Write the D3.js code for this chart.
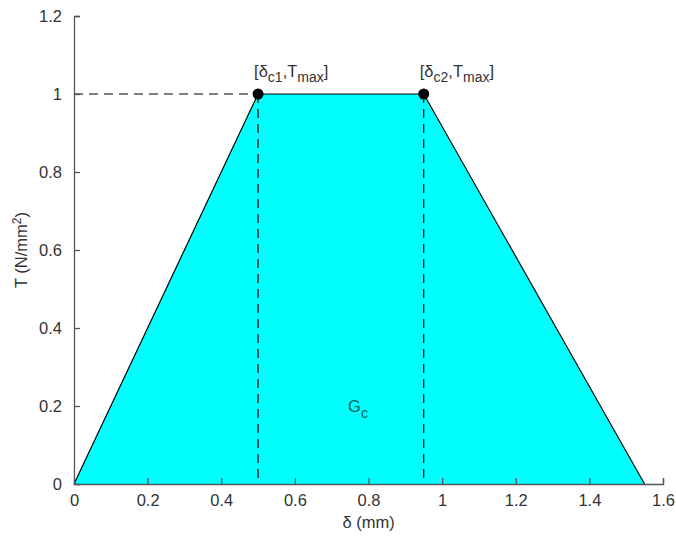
<!DOCTYPE html>
<html>
<head>
<meta charset="utf-8">
<script src="https://cdn.jsdelivr.net/npm/d3@7"></script>
<style>
  body { margin: 0; background: #fff; }
  text { font-family: Arial, "Liberation Sans", sans-serif; }
</style>
</head>
<body>
<svg id="chart" width="676" height="540"></svg>
<script>
// Trapezoidal traction-separation law
const deltaPts = [0, 0.5, 0.95, 1.55];
const tractionPts = [0, 1, 1, 0];
const xTicks = [0, 0.2, 0.4, 0.6, 0.8, 1, 1.2, 1.4, 1.6];
const yTicks = [0, 0.2, 0.4, 0.6, 0.8, 1, 1.2];
const cornerIdx = [1, 2];
const cornerSubs = ["c1", "c2"];
const areaLabelPos = [0.75, 0.2];

const svg = d3.select("#chart");
const m = { left: 74, right: 13, top: 16, bottom: 56 };
const W = 676, H = 540;
const x = d3.scaleLinear().domain([0, 1.6]).range([m.left, W - m.right]);
const y = d3.scaleLinear().domain([0, 1.2]).range([H - m.bottom, m.top]);

const axisColor = "#555";
const textColor = "#333";
const fs = 16.5, fsSub = 14;

// Filled area under the curve
const pts = deltaPts.map((d, i) => [d, tractionPts[i]]);
svg.append("path")
  .attr("d", d3.line().x(d => x(d[0])).y(d => y(d[1]))(pts) + "Z")
  .attr("fill", "#00ffff")
  .attr("stroke", "none");
svg.append("path")
  .attr("d", d3.line().x(d => x(d[0])).y(d => y(d[1]))(pts))
  .attr("fill", "none")
  .attr("stroke", "#000")
  .attr("stroke-width", 1.2);

// Dashed guide lines
svg.append("line")
  .attr("x1", x(0)).attr("x2", x(deltaPts[1]))
  .attr("y1", y(tractionPts[1])).attr("y2", y(tractionPts[1]))
  .attr("stroke", "#000").attr("stroke-dasharray", "9,6").attr("stroke-width", 1.2);
cornerIdx.forEach(i => {
  svg.append("line")
    .attr("x1", x(deltaPts[i])).attr("x2", x(deltaPts[i]))
    .attr("y1", y(tractionPts[i])).attr("y2", y(0))
    .attr("stroke", "#000").attr("stroke-dasharray", "9,6").attr("stroke-width", 1.2);
});

// Axes (ticks point inward)
const xAxis = svg.append("g")
  .attr("transform", `translate(0,${y(0)})`)
  .call(d3.axisBottom(x).tickValues(xTicks).tickSize(-6).tickPadding(10)
    .tickFormat(d => d3.format("~g")(d)));
const yAxis = svg.append("g")
  .attr("transform", `translate(${x(0)},0)`)
  .call(d3.axisLeft(y).tickValues(yTicks).tickSize(-6).tickPadding(12)
    .tickFormat(d => d3.format("~g")(d)));
[xAxis, yAxis].forEach(g => {
  g.select(".domain").attr("stroke", axisColor).attr("stroke-width", 1.3);
  g.selectAll(".tick line").attr("stroke", axisColor).attr("stroke-width", 1.3);
  g.selectAll(".tick text").attr("fill", textColor).attr("font-size", fs)
    .attr("font-family", "Arial, 'Liberation Sans', sans-serif");
});
// Drop the tick marks at the origin
xAxis.selectAll(".tick").filter(d => d === 0).select("line").remove();
yAxis.selectAll(".tick").filter(d => d === 0).select("line").remove();

// Corner markers and labels
cornerIdx.forEach((i, k) => {
  svg.append("circle")
    .attr("cx", x(deltaPts[i])).attr("cy", y(tractionPts[i]))
    .attr("r", 5.5).attr("fill", "#000");
  const t = svg.append("text")
    .attr("x", x(deltaPts[i]) - 4).attr("y", y(tractionPts[i]) - 17)
    .attr("fill", textColor).attr("font-size", fs);
  t.append("tspan").text("[δ");
  t.append("tspan").attr("dy", 5).attr("font-size", fsSub).text(cornerSubs[k]);
  t.append("tspan").attr("dy", -5).text(",T");
  t.append("tspan").attr("dy", 5).attr("font-size", fsSub).text("max");
  t.append("tspan").attr("dy", -5).text("]");
});

// Area label
const g = svg.append("text")
  .attr("x", x(areaLabelPos[0]) - 2).attr("y", y(areaLabelPos[1]) + 6)
  .attr("fill", "#0a5a5a").attr("font-size", fs);
g.append("tspan").text("G");
g.append("tspan").attr("dy", 6).attr("font-size", fsSub).text("c");

// Axis titles
svg.append("text")
  .attr("x", x(0.8)).attr("y", 528)
  .attr("text-anchor", "middle").attr("fill", textColor).attr("font-size", fs)
  .text("δ (mm)");
const yl = svg.append("text")
  .attr("transform", `translate(27,${y(0.6)}) rotate(-90)`)
  .attr("text-anchor", "middle").attr("fill", textColor).attr("font-size", fs);
yl.append("tspan").text("T (N/mm");
yl.append("tspan").attr("dy", -6).attr("font-size", 12).text("2");
yl.append("tspan").attr("dy", 6).text(")");
</script>
</body>
</html>
